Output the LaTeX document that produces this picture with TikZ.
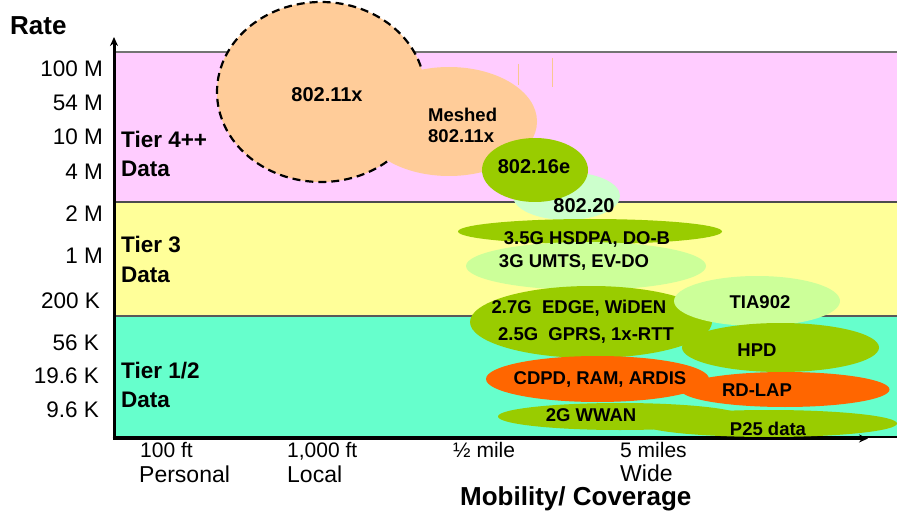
\documentclass[tikz,border=0pt]{standalone}
\usepackage{fontspec}
\setmainfont{Liberation Sans}
\usetikzlibrary{shapes.geometric,arrows.meta}
\definecolor{bandpink}{HTML}{FFCCFF}
\definecolor{bandyellow}{HTML}{FFFF99}
\definecolor{bandteal}{HTML}{66FFCC}
\definecolor{peach}{HTML}{FFCC99}
\definecolor{leaf}{HTML}{99CC00}
\definecolor{mint}{HTML}{CCFFCC}
\definecolor{lime}{HTML}{CCFF99}
\definecolor{rust}{HTML}{FF6600}
\definecolor{markline}{HTML}{F8C890}
\begin{document}
\begin{tikzpicture}[x=1pt,y=-1pt,
  blob/.style={ellipse, inner sep=0pt, draw=none},
  lbl/.style={anchor=base, inner sep=0pt, font=\bfseries\fontsize{18.5}{20}\selectfont},
  biglbl/.style={anchor=base, inner sep=0pt, font=\bfseries\fontsize{20}{22}\selectfont},
  tick/.style={anchor=base east, inner sep=0pt, font=\fontsize{22.5}{24}\selectfont},
  tier/.style={anchor=base west, inner sep=0pt, font=\bfseries\fontsize{22.5}{24}\selectfont},
  xsmall/.style={anchor=base west, inner sep=0pt, font=\fontsize{21}{23}\selectfont},
  xbig/.style={anchor=base west, inner sep=0pt, font=\fontsize{23}{25}\selectfont},
  axisline/.style={line width=3pt, -{Stealth[length=9pt,width=8pt]}}]
\useasboundingbox (0,0) rectangle (897,513);
% bands
\fill[bandpink] (114,52) rectangle (897,202);
\fill[bandyellow] (114,202) rectangle (897,316);
\fill[bandteal] (114,316) rectangle (897,437);
\draw[line width=1.5pt, black!55] (114,52) -- (897,52);
\draw[line width=1.5pt, black!70] (114,202) -- (897,202);
\draw[line width=1.5pt, black!65] (114,316) -- (897,316);
\draw[line width=1.5pt, black] (114,437) -- (897,437);
% faint marks
\draw[markline, line width=0.7pt] (518,64) -- (518,85);
\draw[markline, line width=0.7pt] (552,58) -- (552,87);
% ellipses
\node[blob, fill=peach, draw=black, line width=2.2pt, dash pattern=on 8pt off 5pt,
      minimum width=208pt, minimum height=180pt] (wifi) at (321,92) {};
\node[blob, fill=peach, minimum width=176pt, minimum height=109pt] (mesh) at (449,121.5) {};
\node[blob, fill=mint, minimum width=107pt, minimum height=48pt] (mbwa) at (566.5,196) {};
\node[blob, fill=leaf, minimum width=106pt, minimum height=64pt] (wimax) at (535,170) {};
\node[blob, fill=leaf, minimum width=264pt, minimum height=25pt] (hsdpa) at (590,231.5) {};
\node[blob, fill=lime, minimum width=240pt, minimum height=48pt] (umts) at (586,266) {};
\node[blob, fill=leaf, minimum width=242pt, minimum height=72pt] (edge) at (591,322) {};
\node[blob, fill=lime, minimum width=166pt, minimum height=50pt] (tia) at (757,301) {};
\node[blob, fill=leaf, minimum width=197pt, minimum height=49pt] (hpd) at (780.5,347.5) {};
\node[blob, fill=rust, minimum width=209pt, minimum height=35pt] (rdlap) at (785,389.5) {};
\node[blob, fill=rust, minimum width=223pt, minimum height=46pt] (cdpd) at (597.5,379) {};
\node[blob, fill=leaf, minimum width=244pt, minimum height=27pt] (wwan) at (620,416.5) {};
\node[blob, fill=leaf, minimum width=256pt, minimum height=27pt] (p25) at (769,423.5) {};
% ellipse labels
\node[biglbl] (twifi) at (327,102) {802.11x};
\node[lbl, anchor=base west] (tmesha) at (428,122) {Meshed};
\node[lbl, anchor=base west] (tmeshb) at (428,143) {802.11x};
\node[biglbl] (twimax) at (534,174) {802.16e};
\node[biglbl] (tmbwa) at (584,213) {802.20};
\node[lbl] (thsdpa) at (587,244) {3.5G HSDPA, DO-B};
\node[lbl] (tumts) at (574,268) {3G UMTS, EV-DO};
\node[lbl] (tedge) at (579,313) {2.7G\ \ EDGE, WiDEN};
\node[lbl] (tgprs) at (586,340) {2.5G\ \ GPRS, 1x-RTT};
\node[lbl] (ttia) at (760,308) {TIA902};
\node[lbl] (thpd) at (757,356) {HPD};
\node[lbl] (tcdpd) at (600,384) {CDPD, RAM, ARDIS};
\node[lbl] (trdlap) at (757,396) {RD-LAP};
\node[lbl] (twwan) at (591,421) {2G WWAN};
\node[lbl] (tp25) at (768,435) {P25 data};
% tier labels
\node[tier] (t4a) at (121,148) {Tier 4++};
\node[tier] (t4b) at (121,177) {Data};
\node[tier] (t3a) at (121,253) {Tier 3};
\node[tier] (t3b) at (121,283) {Data};
\node[tier] (t1a) at (121,378) {Tier 1/2};
\node[tier] (t1b) at (121,407) {Data};
% y tick labels
\node[tick] (y1) at (103,77) {100 M};
\node[tick] (y2) at (103,111) {54 M};
\node[tick] (y3) at (103,145) {10 M};
\node[tick] (y4) at (103,180) {4 M};
\node[tick] (y5) at (103,222) {2 M};
\node[tick] (y6) at (103,264) {1 M};
\node[tick] (y7) at (100,308) {200 K};
\node[tick] (y8) at (99,350) {56 K};
\node[tick] (y9) at (99,383) {19.6 K};
\node[tick] (y10) at (99,417) {9.6 K};
\node[anchor=base west, inner sep=0pt, font=\bfseries\fontsize{26}{28}\selectfont] (rate) at (10,35) {Rate};
% x labels
\node[xsmall] (x1) at (140,457) {100 ft};
\node[xbig] (x1b) at (139,482) {Personal};
\node[xsmall] (x2) at (287,457) {1,000 ft};
\node[xbig] (x2b) at (287,482) {Local};
\node[xsmall] (x3) at (453,457) {½ mile};
\node[xsmall] (x4) at (620,457) {5 miles};
\node[xbig] (x4b) at (620,481) {Wide};
\node[anchor=base west, inner sep=0pt, font=\bfseries\fontsize{26}{28}\selectfont] (xtitle) at (460,505) {Mobility/ Coverage};
% axes
\coordinate (origin) at (114,438.5);
\coordinate (ytop) at (114,37);
\coordinate (xend) at (868,438.5);
\draw[axisline] (origin) -- (ytop);
\draw[axisline] ([xshift=-1.5pt]origin) -- (xend);
\end{tikzpicture}
\end{document}
